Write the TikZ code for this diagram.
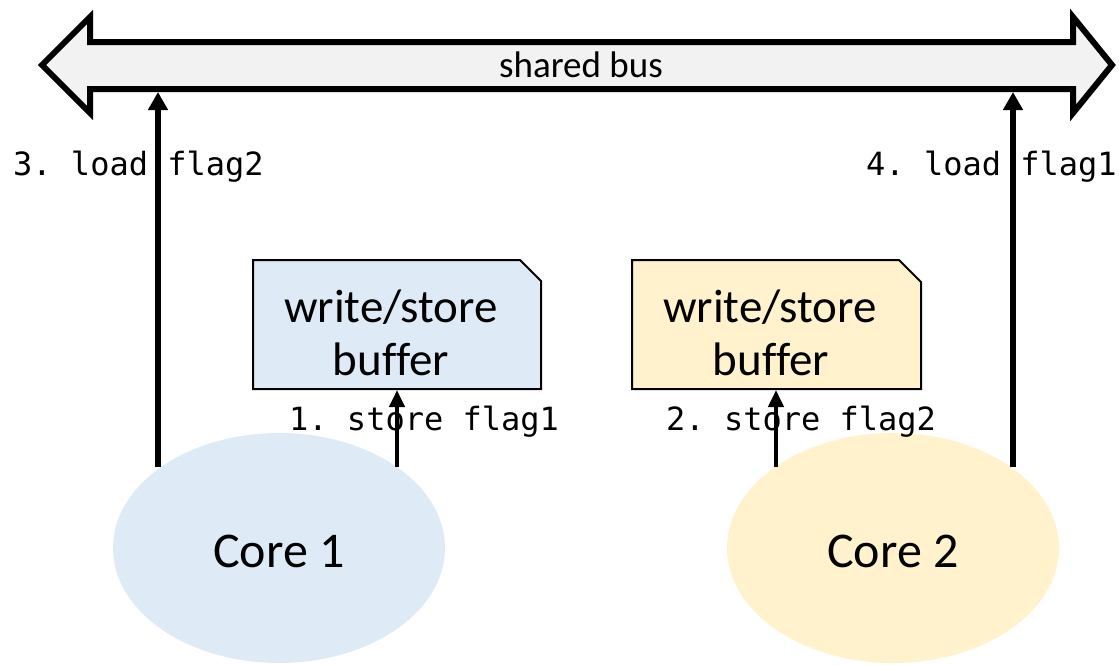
\documentclass[tikz,border=0pt]{standalone}
\usepackage{fontspec}
\setmainfont{Carlito}[Ligatures=NoCommon]
\setmonofont{DejaVu Sans Mono}
\usetikzlibrary{arrows.meta,shapes.geometric}
\definecolor{blueF}{HTML}{DEEBF7}
\definecolor{yelF}{HTML}{FFF2CC}
\definecolor{busF}{HTML}{F2F2F2}
\begin{document}
\begin{tikzpicture}[x=1pt,y=-1pt,
  loadarrow/.style={line width=6pt,-{Triangle[width=19pt,length=18pt]}},
  storearrow/.style={line width=4pt,-{Triangle[width=15pt,length=17pt]}},
  lbl/.style={font=\ttfamily\fontsize{32}{32}\selectfont, inner sep=0pt, anchor=base west},
  buftext/.style={font=\fontsize{47}{47}\selectfont, inner sep=0pt, anchor=base},
  hold/.style={rectangle, inner sep=0pt, outer sep=0pt},
  core/.style={ellipse, inner sep=0pt, minimum width=332pt, minimum height=230pt, draw=none},
  coretext/.style={font=\fontsize{50}{50}\selectfont, inner sep=0pt, anchor=base},
  bufbox/.style={line width=2pt, draw=black}]
\useasboundingbox (0,0) rectangle (1119,664);

% shared bus
\draw[line width=6pt, fill=busF, line join=miter]
  (42,65) -- (90,17) -- (90,42) -- (1073,42) -- (1073,17) -- (1112,65)
  -- (1073,113) -- (1073,89) -- (90,89) -- (90,113) -- cycle;
\node[hold, minimum width=983pt, minimum height=53pt] (bus) at (581.5,65.5) {};
\node[font=\fontsize{37}{37}\selectfont, inner sep=0pt, anchor=base] (bustext) at (581,77) {shared bus};

% cores
\node[core, fill=blueF] (core1) at (279,548) {};
\node[core, fill=yelF] (core2) at (893,548) {};
\node[coretext] (core1t) at (279,567) {Core 1};
\node[coretext] (core2t) at (893,567) {Core 2};

% buffers
\draw[bufbox, fill=blueF] (253,389) -- (253,260) -- (520,260) -- (541,281) -- (541,389) -- cycle;
\draw[bufbox, fill=yelF] (632,389) -- (632,260) -- (899,260) -- (921,282) -- (921,389) -- cycle;
\node[hold, minimum width=290pt, minimum height=131pt] (buf1) at (397,324.5) {};
\node[hold, minimum width=291pt, minimum height=131pt] (buf2) at (776.5,324.5) {};
\node[buftext] (buf1a) at (391,322) {write/store};
\node[buftext] (buf1b) at (391,375) {buffer};
\node[buftext] (buf2a) at (770,322) {write/store};
\node[buftext] (buf2b) at (771,375) {buffer};

% labels
\node[lbl] (l3) at (13,175) {3. load flag2};
\node[lbl] (l4) at (866,175) {4. load flag1};
\node[lbl] (l1) at (289,430) {1. store flag1};
\node[lbl] (l2) at (666,430) {2. store flag2};

% connectors
\coordinate (c1load) at (158,467);
\coordinate (c1store) at (397,467);
\coordinate (c2store) at (776,467);
\coordinate (c2load) at (1013,467);
\draw[loadarrow] (c1load) -- (c1load |- bus.south);
\draw[loadarrow] (c2load) -- (c2load |- bus.south);
\draw[storearrow] (c1store) -- (c1store |- buf1.south);
\draw[storearrow] (c2store) -- (c2store |- buf2.south);
\end{tikzpicture}
\end{document}
